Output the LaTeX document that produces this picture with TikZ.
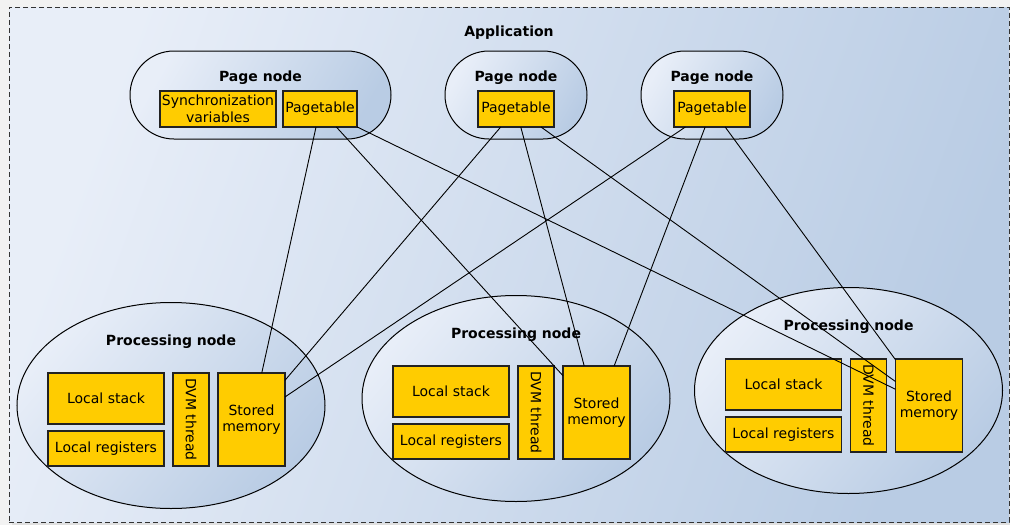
\documentclass[tikz,border=0pt]{standalone}
\usepackage{fontspec}
\setmainfont{DejaVu Sans}
\usetikzlibrary{shapes.geometric,shapes.misc}
\definecolor{bglight}{HTML}{E8EEF8}
\definecolor{bgdark}{HTML}{B9CCE4}
\definecolor{yel}{HTML}{FFCC00}
\definecolor{edge}{HTML}{222222}
\begin{document}
\begin{tikzpicture}[x=1pt,y=-1pt,
  every node/.style={inner sep=0pt,outer sep=0pt,font=\fontsize{14}{16.5}\selectfont},
  box/.style={draw=edge,line width=1.1pt,fill=yel,align=center},
  title/.style={anchor=base,font=\fontsize{14}{16.5}\selectfont\bfseries},
  pagenode/.style={draw=black,line width=1pt,rounded rectangle,minimum height=88pt,
    top color=bglight,bottom color=bgdark,shading angle=60},
  procnode/.style={draw=black,line width=1pt,ellipse,minimum width=308pt,minimum height=206pt,
    top color=bglight,bottom color=bgdark,shading angle=50},
  link/.style={draw=black,line width=0.9pt}]
\useasboundingbox (0,0) rectangle (1010,525);
\fill[black!5] (0,0) rectangle (1010,525);
\fill[black!12] (12,12) rectangle (1012,527);
\node[draw=black!80,dashed,dash pattern=on 5pt off 3pt,line width=1pt,
  top color=bglight,bottom color=bgdark,shading angle=70,
  minimum width=1000pt,minimum height=515pt] (app) at (509,264.5) {};
\node[title] (apptitle) at (509,36.5) {Application};

% Page nodes
\node[pagenode,minimum width=261pt] (pn1) at (260.5,95) {};
\node[title] (pn1t) at (260.5,81.5) {Page node};
\node[box,minimum width=116pt,minimum height=36pt] (sync) at (218,109) {Synchronization\\variables};
\node[box,minimum width=74pt,minimum height=36pt] (pt1) at (320,109) {Pagetable};

\node[pagenode,minimum width=142pt] (pn2) at (516,95) {};
\node[title] (pn2t) at (516,81.5) {Page node};
\node[box,minimum width=76pt,minimum height=36pt] (pt2) at (516,109) {Pagetable};

\node[pagenode,minimum width=142pt] (pn3) at (712,95) {};
\node[title] (pn3t) at (712,81.5) {Page node};
\node[box,minimum width=76pt,minimum height=36pt] (pt3) at (712,109) {Pagetable};

% Processing nodes
\begin{scope}[shift={(171,405.5)}]
\node[procnode] (pr1) at (0,0) {};
\node[title] (pr1t) at (0,-60.5) {Processing node};
\node[box,minimum width=116pt,minimum height=51pt] (ls1) at (-65,-7) {Local stack};
\node[box,minimum width=116pt,minimum height=35pt] (lr1) at (-65,43) {Local registers};
\node[box,rotate=-90,minimum width=93pt,minimum height=36pt] (dvm1) at (20,14) {DVM thread};
\node[box,minimum width=67pt,minimum height=93pt] (sm1) at (80.5,14) {Stored\\memory};
\end{scope}

\begin{scope}[shift={(516,398.5)}]
\node[procnode] (pr2) at (0,0) {};
\node[title] (pr2t) at (0,-60.5) {Processing node};
\node[box,minimum width=116pt,minimum height=51pt] (ls2) at (-65,-7) {Local stack};
\node[box,minimum width=116pt,minimum height=35pt] (lr2) at (-65,43) {Local registers};
\node[box,rotate=-90,minimum width=93pt,minimum height=36pt] (dvm2) at (20,14) {DVM thread};
\node[box,minimum width=67pt,minimum height=93pt] (sm2) at (80.5,14) {Stored\\memory};
\end{scope}

\begin{scope}[shift={(848.5,390.5)}]
\node[procnode] (pr3) at (0,0) {};
\node[title] (pr3t) at (0,-60.5) {Processing node};
\node[box,minimum width=116pt,minimum height=51pt] (ls3) at (-65,-6) {Local stack};
\node[box,minimum width=116pt,minimum height=35pt] (lr3) at (-65,44) {Local registers};
\node[box,rotate=-90,minimum width=93pt,minimum height=36pt] (dvm3) at (20,15) {DVM thread};
\node[box,minimum width=67pt,minimum height=93pt] (sm3) at (80.5,15) {Stored\\memory};
\end{scope}

% Links
\foreach \p in {pt1,pt2,pt3}{
  \foreach \s in {sm1,sm2,sm3}{
    \draw[link] (\p) -- (\s);
  }
}
\end{tikzpicture}
\end{document}
